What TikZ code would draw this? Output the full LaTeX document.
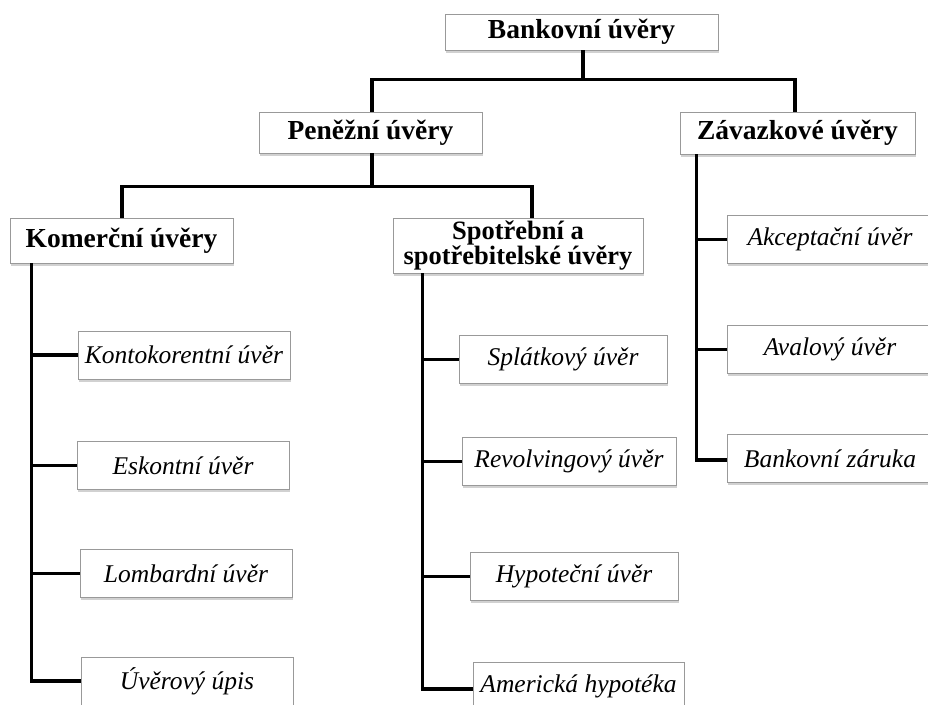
\documentclass[tikz,border=0pt]{standalone}
\usepackage{fontspec}
\setmainfont{Liberation Serif}
\usetikzlibrary{shadows,calc}
\begin{document}
\begin{tikzpicture}[x=1pt,y=-1pt,
  box/.style={draw=black!40, line width=0.7pt, fill=white, inner sep=0pt, align=center,
    drop shadow={fill=black!45, opacity=0.4, shadow xshift=1.2pt, shadow yshift=-2.5pt}},
  head/.style={box, font=\fontsize{27.5}{25}\selectfont\bfseries},
  leaf/.style={box, font=\fontsize{25.5}{25}\selectfont\itshape, minimum height=48pt},
  conn/.style={line width=3.6pt, line join=miter, line cap=butt}]
\useasboundingbox (0,0) rectangle (928,704);
% headers
\node[head, minimum width=273pt, minimum height=36pt] (bank) at (581.5,32) {Bankovní úvěry};
\node[head, minimum width=223pt, minimum height=41pt] (pen) at (370.5,132.5) {Peněžní úvěry};
\node[head, minimum width=235pt, minimum height=42pt] (zav) at (797.5,133) {Závazkové úvěry};
\node[head, minimum width=223pt, minimum height=45pt] (kom) at (121.5,240.5) {Komerční úvěry};
\node[head, minimum width=250pt, minimum height=55pt, font=\fontsize{26.5}{25}\selectfont\bfseries] (spo) at (518,245.5) {Spotřební a\\spotřebitelské úvěry};
% leaves column 1
\node[leaf, minimum width=212pt] (konto) at (184,355) {Kontokorentní úvěr};
\node[leaf, minimum width=212pt] (esk) at (183,465.5) {Eskontní úvěr};
\node[leaf, minimum width=212pt] (lomb) at (186,573.5) {Lombardní úvěr};
\node[leaf, minimum width=212pt] (upis) at (187,681) {Úvěrový úpis};
% leaves column 2
\node[leaf, minimum width=208pt] (splat) at (563,359.5) {Splátkový úvěr};
\node[leaf, minimum width=214pt] (revol) at (569,461.5) {Revolvingový úvěr};
\node[leaf, minimum width=208pt] (hypo) at (574,576.5) {Hypoteční úvěr};
\node[leaf, minimum width=211pt] (amer) at (578.5,686) {Americká hypotéka};
% leaves column 3
\node[leaf, minimum width=206pt] (akc) at (830,239.5) {Akceptační úvěr};
\node[leaf, minimum width=206pt] (aval) at (830,349.5) {Avalový úvěr};
\node[leaf, minimum width=206pt] (bzar) at (830,458.5) {Bankovní záruka};
% connectors level 1
\coordinate (b1) at ($(bank.south)+(1.5,29)$);
\draw[conn] (bank.south) ++(1.5,0) coordinate (b0) -- (b1);
\draw[conn] (b0) |- ([xshift=1.5pt]pen.north |- b1) -- ([xshift=1.5pt]pen.north);
\draw[conn] (b0) |- ([xshift=-2.5pt]zav.north |- b1) -- ([xshift=-2.5pt]zav.north);
% level 2
\coordinate (p1) at ($(pen.south)+(1.5,33)$);
\draw[conn] ([xshift=1.5pt]pen.south) coordinate (p0) |- ([xshift=0.5pt]kom.north |- p1) -- ([xshift=0.5pt]kom.north);
\draw[conn] (p0) |- ([xshift=14pt]spo.north |- p1) -- ([xshift=14pt]spo.north);
% column 1
\coordinate (k0) at ([xshift=22pt]kom.south west);
\draw[conn] (k0) |- (upis.west);
\draw[conn] (k0 |- konto.west) -- (konto.west);
\draw[conn] (k0 |- esk.west) -- (esk.west);
\draw[conn] (k0 |- lomb.west) -- (lomb.west);
% column 2
\coordinate (s0) at ([xshift=30pt]spo.south west);
\draw[conn] (s0) |- ([yshift=-3pt]amer.west);
\draw[conn] (s0 |- splat.west) -- (splat.west);
\draw[conn] (s0 |- revol.west) -- (revol.west);
\draw[conn] (s0 |- hypo.west) -- (hypo.west);
% column 3
\coordinate (z0) at ([xshift=17pt]zav.south west);
\draw[conn] (z0) |- ([yshift=-1.5pt]bzar.west);
\draw[conn] (z0 |- akc.west) -- (akc.west);
\draw[conn] (z0 |- aval.west) -- (aval.west);
\end{tikzpicture}
\end{document}
